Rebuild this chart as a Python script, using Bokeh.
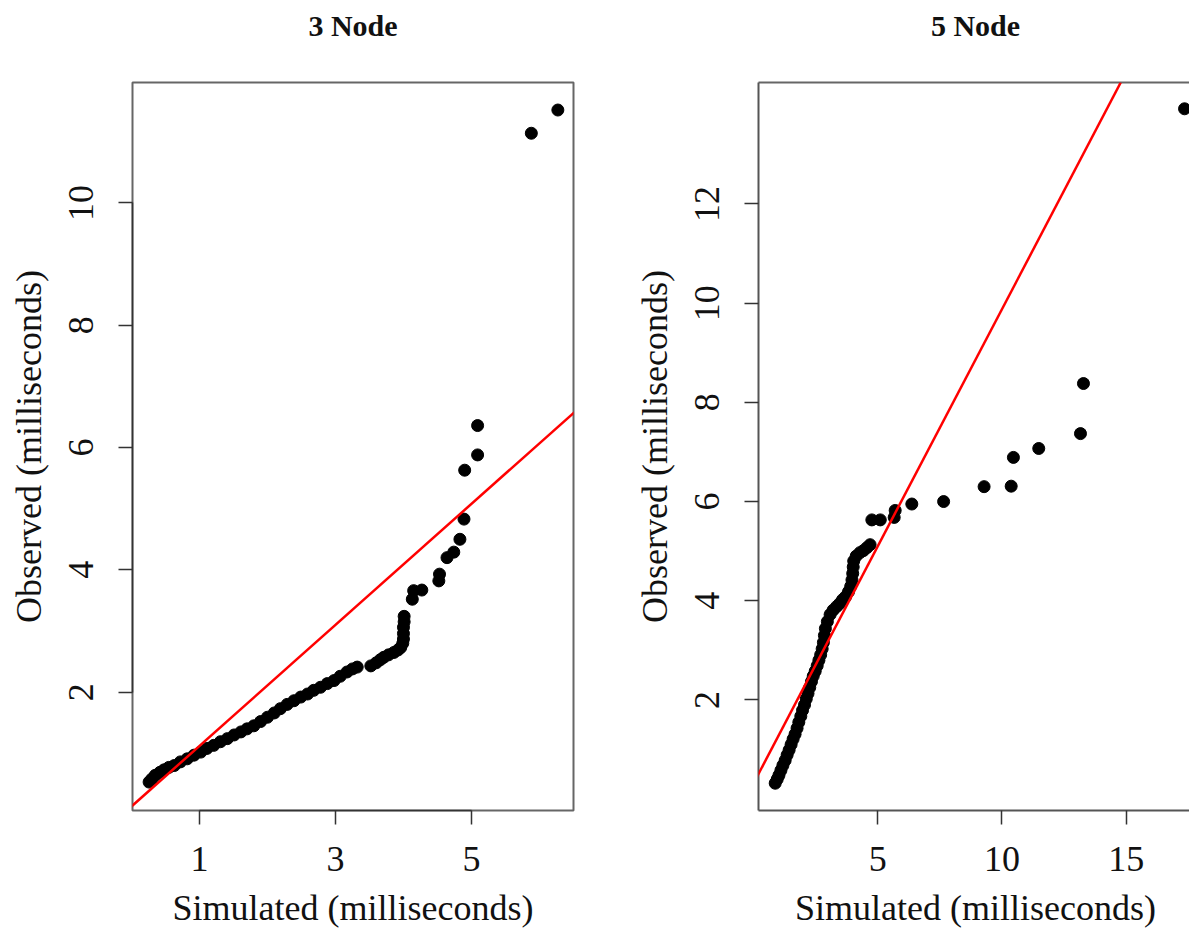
from bokeh.plotting import figure
from bokeh.layouts import row
from bokeh.models import Slope, FixedTicker, LinearAxis, Range1d
from bokeh.embed import file_html
from bokeh.resources import INLINE

# ---------------- data ----------------
titles = ["3 Node", "5 Node"]
x_label = "Simulated (milliseconds)"
y_label = "Observed (milliseconds)"

sim_3 = [0.26, 0.30, 0.35, 0.42, 0.48, 0.55, 0.63, 0.72, 0.82, 0.92,
         1.02, 1.11, 1.21, 1.31, 1.41, 1.51, 1.61, 1.70, 1.80, 1.90,
         2.00, 2.10, 2.19, 2.29, 2.39, 2.49, 2.59, 2.68, 2.78, 2.88,
         2.98, 3.07, 3.17, 3.25, 3.32, 3.52, 3.60, 3.66, 3.71, 3.78,
         3.86, 3.92, 3.96, 3.99, 4.00, 4.00, 4.00, 4.01, 4.01, 4.13,
         4.15, 4.27, 4.52, 4.53, 4.64, 4.74, 4.83, 4.89, 4.90, 5.09,
         5.09, 5.88, 6.27]
obs_3 = [0.53, 0.58, 0.64, 0.69, 0.73, 0.77, 0.80, 0.86, 0.91, 0.97,
         1.02, 1.08, 1.13, 1.19, 1.24, 1.30, 1.35, 1.40, 1.45, 1.52,
         1.59, 1.66, 1.73, 1.80, 1.86, 1.92, 1.97, 2.03, 2.08, 2.14,
         2.19, 2.26, 2.33, 2.38, 2.41, 2.43, 2.48, 2.53, 2.57, 2.61,
         2.65, 2.69, 2.73, 2.80, 2.87, 2.96, 3.06, 3.15, 3.24, 3.52,
         3.66, 3.67, 3.82, 3.93, 4.20, 4.29, 4.50, 4.83, 5.63, 5.88,
         6.36, 11.14, 11.52]

sim_5 = [0.87, 0.95, 1.02, 1.10, 1.18, 1.27, 1.35, 1.43, 1.51, 1.59,
         1.67, 1.75, 1.82, 1.90, 1.97, 2.05, 2.12, 2.19, 2.26, 2.33,
         2.40, 2.48, 2.56, 2.63, 2.70, 2.76, 2.81, 2.85, 2.89, 2.97,
         3.08, 3.20, 3.34, 3.46, 3.58, 3.70, 3.82, 3.91, 3.96, 3.99,
         4.01, 4.03, 4.13, 4.28, 4.42, 4.56, 4.69, 4.76, 5.10, 5.66,
         5.70, 6.37, 7.65, 9.28, 10.37, 10.46, 11.48, 13.16, 13.28, 17.35]
obs_5 = [0.32, 0.40, 0.48, 0.58, 0.68, 0.78, 0.89, 0.99, 1.10, 1.21,
         1.31, 1.43, 1.55, 1.67, 1.79, 1.90, 2.02, 2.13, 2.25, 2.37,
         2.48, 2.58, 2.69, 2.80, 2.91, 3.03, 3.16, 3.30, 3.44, 3.58,
         3.72, 3.81, 3.88, 3.94, 4.02, 4.08, 4.18, 4.29, 4.42, 4.55,
         4.68, 4.80, 4.90, 4.97, 5.01, 5.07, 5.13, 5.63, 5.63, 5.68,
         5.82, 5.95, 6.00, 6.30, 6.31, 6.89, 7.07, 7.37, 8.38, 13.92]

line_3_intercept = 0.13
line_3_slope = 0.99
line_5_intercept = 0.32
line_5_slope = 0.956

xticks_3 = [1, 3, 5]
yticks_3 = [2, 4, 6, 8, 10]
xticks_5 = [5, 10, 15]
yticks_5 = [2, 4, 6, 8, 10, 12]

# ---------------- style ----------------
SERIF = "Liberation Serif"
TXT = "#111111"


def style_axis(ax, ticks, vertical=False):
    ax.ticker = FixedTicker(ticks=ticks)
    ax.minor_tick_line_color = None
    ax.major_tick_in = 0
    ax.major_tick_out = 14
    ax.major_tick_line_color = "#333333"
    ax.major_tick_line_width = 1.5
    ax.major_label_text_font = SERIF
    ax.major_label_text_font_size = "36px"
    ax.major_label_text_color = TXT
    ax.axis_label_text_font = SERIF
    ax.axis_label_text_font_size = "36px"
    ax.axis_label_text_font_style = "normal"
    ax.axis_label_text_color = TXT
    if vertical:
        ax.major_label_orientation = "vertical"
        ax.major_label_standoff = 25
        ax.axis_label_standoff = 18
    else:
        ax.major_label_standoff = 22
        ax.axis_label_standoff = 14


def title_axis(text, line_color):
    ax = LinearAxis(ticker=FixedTicker(ticks=[]), axis_line_color=line_color,
                    axis_line_width=2, major_tick_line_color=None,
                    minor_tick_line_color=None, major_tick_out=0, major_tick_in=0,
                    major_label_standoff=0, major_label_text_font_size="0px")
    ax.axis_label = text
    ax.axis_label_text_font = SERIF
    ax.axis_label_text_font_size = "30px"
    ax.axis_label_text_font_style = "bold"
    ax.axis_label_text_color = TXT
    ax.axis_label_standoff = 41
    return ax


# ---------------- left panel: 3 Node ----------------
p1 = figure(frame_width=441, frame_height=728,
            x_range=Range1d(0.016, 6.50), y_range=Range1d(0.065, 11.97),
            output_backend="svg", toolbar_location=None,
            min_border_left=132, min_border_right=58,
            min_border_top=82, min_border_bottom=118,
            background_fill_color="white", border_fill_color="white")
p1.grid.visible = False
p1.outline_line_color = "#666666"
p1.outline_line_width = 2
style_axis(p1.xaxis[0], xticks_3)
style_axis(p1.yaxis[0], yticks_3, vertical=True)
p1.xaxis[0].axis_label = x_label
p1.yaxis[0].axis_label = y_label
p1.xaxis[0].bounds = (xticks_3[0], xticks_3[-1])
p1.yaxis[0].bounds = (yticks_3[0], yticks_3[-1])
p1.xaxis[0].axis_line_color = "#333333"
p1.yaxis[0].axis_line_color = "#333333"
p1.xaxis[0].axis_line_width = 1.5
p1.yaxis[0].axis_line_width = 1.5
p1.add_layout(title_axis(titles[0], None), "above")
p1.scatter(sim_3, obs_3, size=12, color="black")
p1.add_layout(Slope(gradient=line_3_slope, y_intercept=line_3_intercept,
                    line_color="#ff0000", line_width=2.5))

# ---------------- right panel: 5 Node ----------------
p2 = figure(frame_width=434, frame_height=728,
            x_range=Range1d(0.197, 17.67), y_range=Range1d(-0.23, 14.45),
            output_backend="svg", toolbar_location=None,
            min_border_left=124, min_border_right=0,
            min_border_top=82, min_border_bottom=118,
            background_fill_color="white", border_fill_color="white")
p2.grid.visible = False
p2.outline_line_color = None
style_axis(p2.xaxis[0], xticks_5)
style_axis(p2.yaxis[0], yticks_5, vertical=True)
p2.xaxis[0].axis_label = x_label
p2.yaxis[0].axis_label = y_label
for ax in (p2.xaxis[0], p2.yaxis[0]):
    ax.axis_line_color = "#555555"
    ax.axis_line_width = 2
p2.add_layout(title_axis(titles[1], "#666666"), "above")
p2.scatter(sim_5, obs_5, size=12, color="black")
p2.add_layout(Slope(gradient=line_5_slope, y_intercept=line_5_intercept,
                    line_color="#ff0000", line_width=2.5))

layout = row(p1, p2)
open("out.html", "w").write(file_html(layout, INLINE))
